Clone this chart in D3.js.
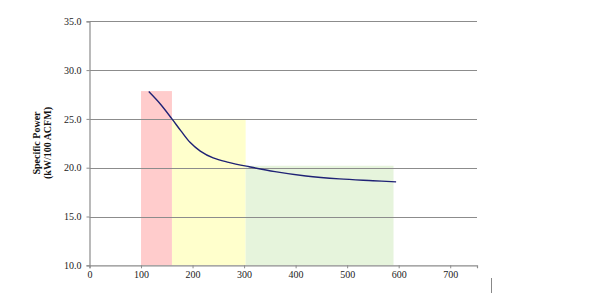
<!DOCTYPE html>
<html>
<head>
<meta charset="utf-8">
<script src="https://cdn.jsdelivr.net/npm/d3@7"></script>
<style>
  body { margin: 0; background: #fff; }
  svg { display: block; }
</style>
</head>
<body>
<svg id="chart" width="595" height="308"></svg>
<script>
// zones (x range in ACFM, top in kW/100 ACFM)
var zoneStart = [100, 160, 303];
var zoneEnd   = [160, 303, 590];
var zoneTop   = [27.85, 25.0, 20.2];
var zoneColor = ["#ffcccc", "#ffffcc", "#e6f4dc"];

// specific power curve
var curveX = [115, 137, 160, 177, 195, 215, 240, 270, 310, 360, 420, 485, 550, 595];
var curveY = [27.8, 26.55, 25.0, 23.8, 22.6, 21.7, 21.0, 20.55, 20.1, 19.6, 19.15, 18.85, 18.67, 18.55];

var xTicks = [0, 100, 200, 300, 400, 500, 600, 700];
var yTicks = [10, 15, 20, 25, 30, 35];

var svg = d3.select("#chart");

var x = d3.scaleLinear().domain([0, 752]).range([89.5, 477]);
var y = d3.scaleLinear().domain([10, 35]).range([265.3, 21.3]);

// shaded zones
svg.append("g")
    .selectAll("rect")
    .data(zoneStart)
    .enter()
    .append("rect")
    .attr("x", function(d) { return x(d); })
    .attr("width", function(d, i) { return x(zoneEnd[i]) - x(d); })
    .attr("y", function(d, i) { return y(zoneTop[i]); })
    .attr("height", function(d, i) { return y(10) - y(zoneTop[i]); })
    .attr("fill", function(d, i) { return zoneColor[i]; });

// gridlines
svg.append("g")
    .selectAll("line")
    .data(yTicks.slice(1))
    .enter()
    .append("line")
    .attr("x1", x(0))
    .attr("x2", x(752))
    .attr("y1", function(d) { return Math.round(y(d)) + 0.5; })
    .attr("y2", function(d) { return Math.round(y(d)) + 0.5; })
    .attr("stroke", "#8c8c8c")
    .attr("stroke-width", 1.2);

// axes
var yAxis = svg.append("g")
    .attr("transform", "translate(" + x(0) + ",0)")
    .call(d3.axisLeft(y).tickValues(yTicks).tickFormat(d3.format(".1f")).tickSize(3).tickPadding(5));

var xAxis = svg.append("g")
    .attr("transform", "translate(0," + y(10) + ")")
    .call(d3.axisBottom(x).tickValues(xTicks).tickSize(3).tickPadding(3));

[yAxis, xAxis].forEach(function(a) {
    a.select(".domain").attr("stroke", "#8c8c8c").attr("stroke-width", 1.2);
    a.selectAll(".tick line").attr("stroke", "#8c8c8c");
    a.selectAll("text")
        .style("font-family", "'Liberation Serif', 'Times New Roman', serif")
        .style("font-size", "10px")
        .attr("fill", "#222");
});

// curve
var pts = curveX.map(function(d, i) { return [d, curveY[i]]; });
var line = d3.line()
    .x(function(d) { return x(d[0]); })
    .y(function(d) { return y(d[1]); })
    .curve(d3.curveCatmullRom.alpha(0.5));

svg.append("path")
    .datum(pts)
    .attr("d", line)
    .attr("fill", "none")
    .attr("stroke", "#1f2275")
    .attr("stroke-width", 1.4);

// y axis title
var title = svg.append("text")
    .attr("transform", "translate(41,143) rotate(-90)")
    .attr("text-anchor", "middle")
    .style("font-family", "'Liberation Serif', 'Times New Roman', serif")
    .style("font-size", "10px")
    .style("font-weight", "bold")
    .attr("fill", "#111");

title.append("tspan").attr("x", 0).attr("dy", "-0.1em").text("Specific Power");
title.append("tspan").attr("x", 0).attr("dy", "1.1em").text("(kW/100 ACFM)");

// stray mark at bottom right
svg.append("line")
    .attr("x1", 491.5).attr("x2", 491.5)
    .attr("y1", 278).attr("y2", 293)
    .attr("stroke", "#888")
    .attr("stroke-width", 1);
</script>
</body>
</html>
